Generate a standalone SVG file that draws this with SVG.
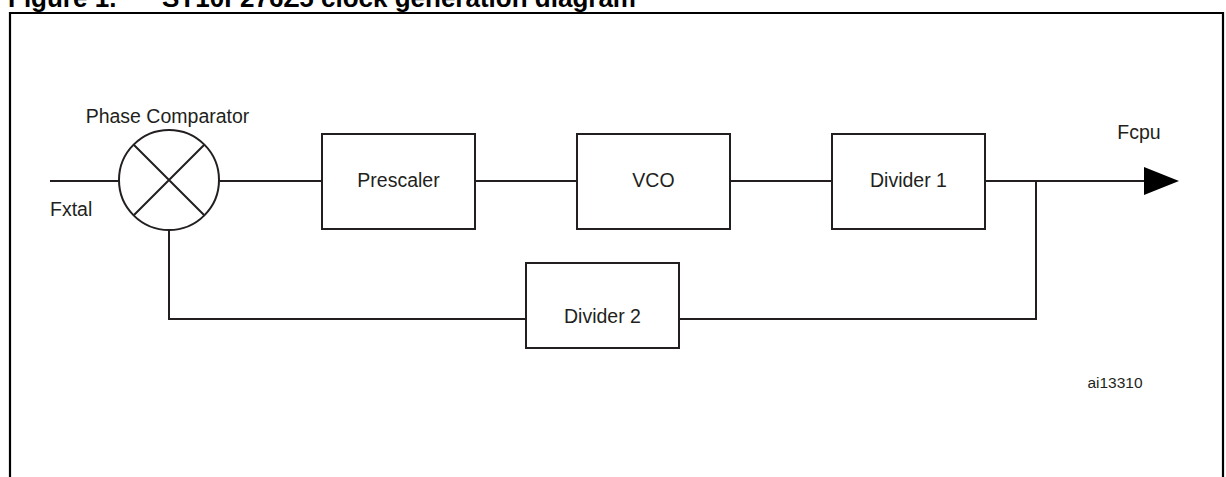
<svg xmlns="http://www.w3.org/2000/svg" width="1226" height="477" viewBox="0 0 1226 477">
<style>
.ln{stroke:#231f20;stroke-width:2;fill:none}
.bx{stroke:#231f20;stroke-width:2;fill:#fff}
.t{font-family:"Liberation Sans",Arial,sans-serif;font-size:19.5px;fill:#231f20}
.ttl{font-family:"Liberation Sans",Arial,sans-serif;font-size:26px;font-weight:bold;fill:#000}
</style>
<rect width="1226" height="477" fill="#fff"/>
<text class="ttl" x="8" y="7">Figure 1.</text>
<text class="ttl" x="162" y="7">ST10F276Z5 clock generation diagram</text>
<path d="M10,490 V13 H1223 V490" stroke="#000" stroke-width="2.2" fill="none"/>
<g id="connectors">
<path class="ln" d="M50,181 H119"/>
<path class="ln" d="M219,181 H322"/>
<path class="ln" d="M475,181 H577"/>
<path class="ln" d="M730,181 H832"/>
<path class="ln" d="M985,181 H1146"/>
<path class="ln" d="M169,230 V319 H526"/>
<path class="ln" d="M679,319 H1036 V181"/>
<polygon points="1144,167 1179,181 1144,195" fill="#000"/>
</g>
<g id="phase-comparator">
<circle class="ln" cx="169" cy="180" r="50"/>
<path class="ln" d="M134,145 L204,215 M204,145 L134,215"/>
<text class="t" x="167.5" y="123" text-anchor="middle">Phase Comparator</text>
</g>
<g id="prescaler">
<rect class="bx" x="322" y="134" width="153" height="95"/>
<text class="t" x="398.5" y="187" text-anchor="middle">Prescaler</text>
</g>
<g id="vco">
<rect class="bx" x="577" y="134" width="153" height="95"/>
<text class="t" x="653.5" y="187" text-anchor="middle">VCO</text>
</g>
<g id="divider1">
<rect class="bx" x="832" y="134" width="153" height="95"/>
<text class="t" x="908.5" y="187" text-anchor="middle">Divider 1</text>
</g>
<g id="divider2">
<rect class="bx" x="526" y="263" width="153" height="85"/>
<text class="t" x="602.5" y="323" text-anchor="middle">Divider 2</text>
</g>
<g id="labels">
<text class="t" x="50" y="216">Fxtal</text>
<text class="t" x="1139" y="139" text-anchor="middle">Fcpu</text>
<text class="t" x="1115" y="388" text-anchor="middle" style="font-size:15.5px">ai13310</text>
</g>
</svg>
